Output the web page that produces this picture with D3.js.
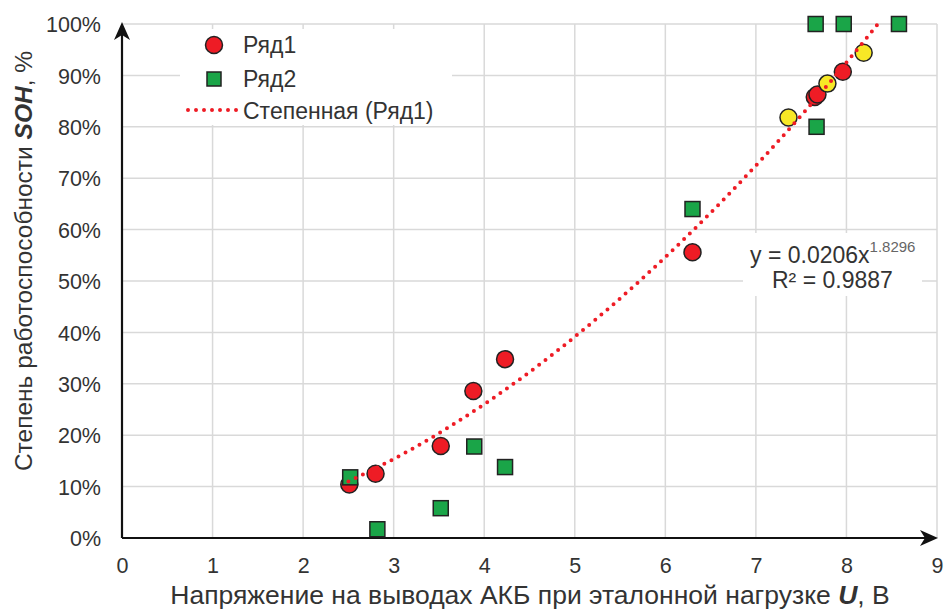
<!DOCTYPE html>
<html lang="ru">
<head>
    <meta charset="UTF-8" />
    <title>SOH от напряжения АКБ</title>
    <script src="https://d3js.org/d3.v7.min.js"></script>
    <style>
        body, html {
            margin: 0;
            padding: 0;
            background: #fff;
            font-family: "Liberation Sans", Arial, sans-serif;
        }
        .grid line {
            stroke: #d9d9d9;
            stroke-width: 1.5px;
        }
        .tick-label, .legend text, .eq text, .title {
            fill: #333;
        }
    </style>
</head>
<body>
<div id="chart"></div>
<script>
    // Ряд1 — красные точки (напряжение, В; SOH, %)
    const ryad1X = [2.51, 2.80, 3.52, 3.88, 4.23, 6.30, 7.65, 7.68, 7.96];
    const ryad1Y = [10.4, 12.5, 17.9, 28.6, 34.8, 55.6, 85.8, 86.3, 90.7];
    // отдельные точки Ряд1, выделенные жёлтым
    const yellowX = [7.36, 7.79, 8.19];
    const yellowY = [81.8, 88.4, 94.4];
    // Ряд2 — зелёные квадраты
    const ryad2X = [2.52, 2.82, 3.52, 3.89, 4.23, 6.30, 7.67, 7.66, 7.97, 8.58];
    const ryad2Y = [11.8, 1.7, 5.8, 17.8, 13.8, 64.0, 80.0, 100, 100, 100];

    const xTicks = [0, 1, 2, 3, 4, 5, 6, 7, 8, 9];
    const yTicks = [0, 10, 20, 30, 40, 50, 60, 70, 80, 90, 100];

    // степенная линия тренда: y = a * x^b
    const trendA = 0.0206;
    const trendB = 1.8296;
    const trendRange = [2.5, 8.58];

    const width = 944, height = 612;
    const margin = {top: 24, right: 7, bottom: 74, left: 122};
    const w = width - margin.left - margin.right;
    const h = height - margin.top - margin.bottom;

    const svg = d3.select("#chart").append("svg")
        .attr("width", width)
        .attr("height", height);

    const g = svg.append("g")
        .attr("transform", `translate(${margin.left},${margin.top})`);

    const x = d3.scaleLinear().domain([0, 9]).range([0, w]);
    const y = d3.scaleLinear().domain([0, 100]).range([h, 0]);

    // сетка
    const grid = g.append("g").attr("class", "grid");
    grid.selectAll(".hl").data(yTicks.slice(1)).enter().append("line")
        .attr("x1", 0).attr("x2", w)
        .attr("y1", d => y(d)).attr("y2", d => y(d));
    grid.selectAll(".vl").data(xTicks.slice(1)).enter().append("line")
        .attr("x1", d => x(d)).attr("x2", d => x(d))
        .attr("y1", 0).attr("y2", h);

    // подписи делений
    const xAxis = d3.axisBottom(x).tickValues(xTicks).tickSize(0).tickPadding(20);
    const yAxis = d3.axisLeft(y).tickValues(yTicks).tickSize(0).tickPadding(21)
        .tickFormat(d => d + "%");

    g.append("g").attr("transform", `translate(0,${h})`).call(xAxis)
        .call(s => s.select(".domain").remove())
        .selectAll("text").attr("class", "tick-label")
        .style("font-size", "21.5px").attr("fill", "#333");
    g.append("g").call(yAxis)
        .call(s => s.select(".domain").remove())
        .selectAll("text").attr("class", "tick-label")
        .style("font-size", "21.5px").attr("fill", "#333").attr("dy", "0.36em");

    // оси со стрелками
    const arrow = "M0,0 L-18,-8 L-13,0 L-18,8 Z";
    g.append("line").attr("x1", 0).attr("x2", w - 2).attr("y1", h).attr("y2", h)
        .attr("stroke", "#111").attr("stroke-width", 2.2);
    g.append("path").attr("d", arrow)
        .attr("transform", `translate(${w + 1},${h})`).attr("fill", "#111");
    g.append("line").attr("x1", 0).attr("x2", 0).attr("y1", h).attr("y2", 2)
        .attr("stroke", "#111").attr("stroke-width", 2.2);
    g.append("path").attr("d", arrow)
        .attr("transform", `translate(0,-2) rotate(-90)`).attr("fill", "#111");

    // точки
    const red = ryad1X.map((v, i) => ({x: v, y: ryad1Y[i]}));
    const yel = yellowX.map((v, i) => ({x: v, y: yellowY[i]}));
    const grn = ryad2X.map((v, i) => ({x: v, y: ryad2Y[i]}));

    g.selectAll(".r1").data(red).enter().append("circle")
        .attr("cx", d => x(d.x)).attr("cy", d => y(d.y)).attr("r", 8.5)
        .attr("fill", "#ee1c25").attr("stroke", "#222").attr("stroke-width", 1.5);
    g.selectAll(".ye").data(yel).enter().append("circle")
        .attr("cx", d => x(d.x)).attr("cy", d => y(d.y)).attr("r", 8.5)
        .attr("fill", "#f7e826").attr("stroke", "#222").attr("stroke-width", 1.5);
    g.selectAll(".r2").data(grn).enter().append("rect")
        .attr("x", d => x(d.x) - 7.5).attr("y", d => y(d.y) - 7.5)
        .attr("width", 15).attr("height", 15)
        .attr("fill", "#1aa548").attr("stroke", "#222").attr("stroke-width", 1.5);

    // линия тренда
    const trendPts = d3.range(trendRange[0], trendRange[1] + 0.001, 0.02)
        .map(v => ({x: v, y: trendA * Math.pow(v, trendB) * 100}))
        .filter(d => d.y <= 100.5);
    g.append("path").datum(trendPts)
        .attr("d", d3.line().x(d => x(d.x)).y(d => y(d.y)))
        .attr("fill", "none").attr("stroke", "#ee1c25")
        .attr("stroke-width", 4).attr("stroke-linecap", "round")
        .attr("stroke-dasharray", "0 8");

    // уравнение
    const eq = svg.append("g").attr("class", "eq");
    eq.append("rect").attr("x", 743).attr("y", 233)
        .attr("width", 179).attr("height", 63).attr("fill", "#fff");
    const t1 = eq.append("text").attr("x", 750).attr("y", 263)
        .style("font-size", "23px");
    t1.append("tspan").text("y = 0.0206x");
    t1.append("tspan").text("1.8296").style("font-size", "15px")
        .attr("dy", "-0.75em").attr("fill", "#666");
    eq.append("text").attr("x", 772).attr("y", 288)
        .style("font-size", "23px").text("R² = 0.9887");

    // легенда
    const lg = svg.append("g").attr("class", "legend");
    lg.append("rect").attr("x", 180).attr("y", 29).attr("width", 272).attr("height", 96)
        .attr("fill", "#fff");
    lg.append("circle").attr("cx", 214).attr("cy", 45).attr("r", 8.5)
        .attr("fill", "#ee1c25").attr("stroke", "#222").attr("stroke-width", 1.5);
    lg.append("rect").attr("x", 207).attr("y", 72).attr("width", 14).attr("height", 14)
        .attr("fill", "#1aa548").attr("stroke", "#222").attr("stroke-width", 1.5);
    lg.append("line").attr("x1", 188).attr("x2", 238).attr("y1", 110).attr("y2", 110)
        .attr("stroke", "#ee1c25").attr("stroke-width", 4)
        .attr("stroke-linecap", "round").attr("stroke-dasharray", "0 8");
    [["Ряд1", 45], ["Ряд2", 79], ["Степенная (Ряд1)", 111]].forEach(([t, cy]) => {
        lg.append("text").attr("x", 243).attr("y", cy).attr("dy", "0.36em")
            .style("font-size", "23px").text(t);
    });

    // подписи осей
    const xt = svg.append("text").attr("class", "title")
        .attr("x", 530).attr("y", 604)
        .attr("text-anchor", "middle").style("font-size", "26.5px");
    xt.append("tspan").text("Напряжение на выводах АКБ при эталонной нагрузке ");
    xt.append("tspan").text("U").style("font-weight", "bold").style("font-style", "italic");
    xt.append("tspan").text(", В");

    const yt = svg.append("text").attr("class", "title")
        .attr("transform", "translate(32,261) rotate(-90)")
        .attr("text-anchor", "middle").style("font-size", "24.5px");
    yt.append("tspan").text("Степень работоспособности ");
    yt.append("tspan").text("SOH").style("font-weight", "bold").style("font-style", "italic");
    yt.append("tspan").text(", %");
</script>
</body>
</html>
